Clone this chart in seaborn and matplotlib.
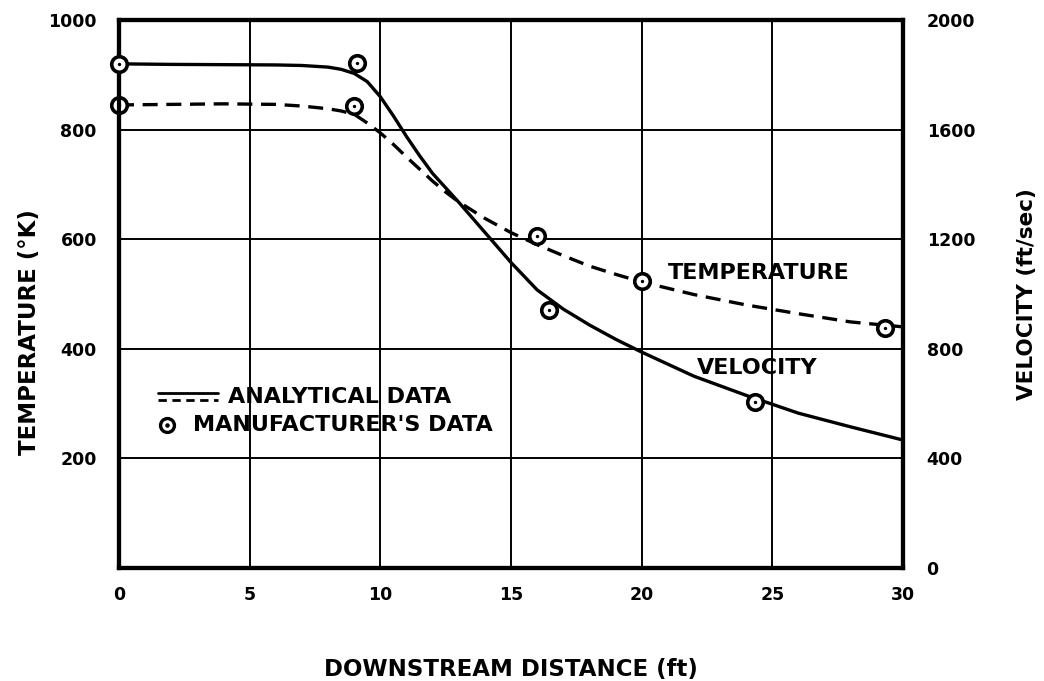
import numpy as np
import pandas as pd
import seaborn as sns
import matplotlib
matplotlib.use("Agg")
import matplotlib.pyplot as plt

# Analytical curves
temp_x = [0, 2, 4, 6, 7, 8, 8.5, 9, 9.5, 10, 10.5, 11, 11.5, 12, 12.5, 13, 14, 15, 16, 17, 18, 19, 20, 22, 24, 26, 28, 30]
temp_y = [845, 846, 847, 846, 843, 838, 834, 828, 812, 794, 773, 750, 728, 706, 686, 668, 638, 612, 590, 570, 551, 536, 522, 499, 480, 464, 449, 440]

vel_x = [0, 2, 4, 6, 7, 8, 8.5, 9, 9.5, 10, 10.5, 11, 11.5, 12, 13, 14, 15, 16, 17, 18, 19, 20, 22, 24, 26, 28, 30]
vel_y = [1840, 1838, 1837, 1836, 1834, 1828, 1820, 1805, 1775, 1720, 1650, 1575, 1505, 1440, 1335, 1225, 1115, 1015, 945, 887, 835, 788, 700, 630, 565, 515, 467]

# Manufacturer's data points
temp_pts_x = [0, 9.0, 16.0, 20.0, 29.3]
temp_pts_y = [845, 843, 606, 524, 438]
vel_pts_x = [0, 9.1, 16.45, 24.35]
vel_pts_y = [1840, 1843, 940, 606]

x_ticks = [0, 5, 10, 15, 20, 25, 30]
temp_ticks = [200, 400, 600, 800, 1000]
vel_ticks = [0, 400, 800, 1200, 1600, 2000]

sns.set_style("white")
plt.rcParams['font.family'] = ['DejaVu Sans']
plt.rcParams['font.weight'] = 'bold'
for k in ("text.color", "axes.labelcolor", "xtick.color", "ytick.color"):
    plt.rcParams[k] = "black"

fig = plt.figure(figsize=(10.44, 6.81), dpi=100)
ax = fig.add_axes([119 / 1044, 113 / 681, 784 / 1044, 548 / 681])
ax2 = ax.twinx()

lw = 2.4
sns.lineplot(x=temp_x, y=temp_y, ax=ax, color="black", lw=lw)
ax.lines[-1].set_dashes((4.5, 2.6))
sns.lineplot(x=vel_x, y=vel_y, ax=ax2, color="black", lw=lw)

mk = dict(s=125, marker="o", facecolor="white", edgecolor="black", linewidth=2.6, clip_on=False, zorder=5)
dot = dict(s=6, marker="o", color="black", linewidth=0, clip_on=False, zorder=6)
sns.scatterplot(x=temp_pts_x, y=temp_pts_y, ax=ax, **mk)
sns.scatterplot(x=temp_pts_x, y=temp_pts_y, ax=ax, **dot)
sns.scatterplot(x=vel_pts_x, y=vel_pts_y, ax=ax2, **mk)
sns.scatterplot(x=vel_pts_x, y=vel_pts_y, ax=ax2, **dot)

ax.set_xlim(0, 30)
ax.set_ylim(0, 1000)
ax2.set_ylim(0, 2000)
ax.set_xticks(x_ticks)
ax.set_yticks(temp_ticks)
ax2.set_yticks(vel_ticks)
ax.grid(True, color="black", lw=1.4)

fs = 12.5
ax.tick_params(axis="both", length=0, labelsize=fs)
ax.tick_params(axis="x", pad=13)
ax.tick_params(axis="y", pad=16)
ax2.tick_params(axis="y", length=0, labelsize=fs, pad=17)
for a in (ax, ax2):
    for s in a.spines.values():
        s.set_linewidth(3)
        s.set_color("black")
    for t in a.get_xticklabels() + a.get_yticklabels():
        t.set_fontweight("bold")

ax.set_xlabel("DOWNSTREAM DISTANCE (ft)", fontsize=16.5, fontweight="bold")
ax.xaxis.set_label_coords(0.5, -0.165)
ax.set_ylabel("TEMPERATURE (°K)", fontsize=16.5, fontweight="bold")
ax.yaxis.set_label_coords(-0.10, 0.43)
ax2.set_ylabel("VELOCITY (ft/sec)", fontsize=15.5, fontweight="bold")
ax2.yaxis.set_label_coords(1.145, 0.5)

ax.text(21.0, 538, "TEMPERATURE", fontsize=16, fontweight="bold", va="center", ha="left")
ax.text(22.1, 365, "VELOCITY", fontsize=16, fontweight="bold", va="center", ha="left")

# hand-drawn legend
ax.plot([0.05, 0.126], [0.320, 0.320], transform=ax.transAxes, color="black", lw=2)
ax.plot([0.05, 0.126], [0.306, 0.306], transform=ax.transAxes, color="black", lw=2, dashes=(3, 2))
ax.text(0.139, 0.312, "ANALYTICAL DATA", transform=ax.transAxes, fontsize=16, fontweight="bold", va="center")
ax.scatter([0.061], [0.261], transform=ax.transAxes, s=100, marker="o", facecolor="white", edgecolor="black", linewidth=2.4, zorder=5)
ax.scatter([0.061], [0.261], transform=ax.transAxes, s=5, color="black", zorder=6)
ax.text(0.094, 0.261, "MANUFACTURER'S DATA", transform=ax.transAxes, fontsize=16, fontweight="bold", va="center")

fig.savefig("out.png", dpi=100)
